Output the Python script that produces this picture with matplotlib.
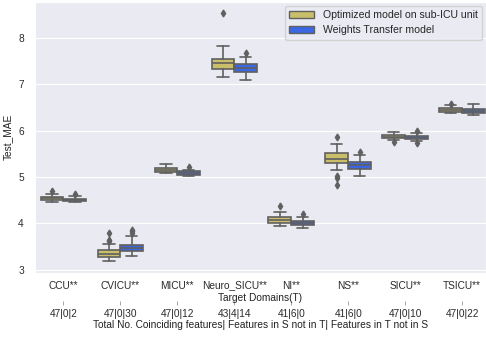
import numpy as np
import matplotlib.pyplot as plt
import seaborn as sns

sns.set_style("darkgrid")
plt.rcParams['font.family'] = ['Liberation Sans', 'DejaVu Sans']

domains = ['CCU**', 'CVICU**', 'MICU**', 'Neuro_SICU**', 'NI**', 'NS**', 'SICU**', 'TSICU**']
features = ['47|0|2', '47|0|30', '47|0|12', '43|4|14', '41|6|0', '41|6|0', '47|0|10', '47|0|22']
models = ['Optimized model on sub-ICU unit', 'Weights Transfer model']

# box summaries per domain: (whislo, q1, median, q3, whishi)
opt_box = [
    (4.46, 4.51, 4.54, 4.57, 4.64),
    (3.20, 3.27, 3.34, 3.42, 3.55),
    (5.08, 5.10, 5.16, 5.20, 5.28),
    (7.16, 7.33, 7.45, 7.55, 7.82),
    (3.94, 4.01, 4.07, 4.13, 4.25),
    (5.15, 5.31, 5.39, 5.51, 5.72),
    (5.79, 5.84, 5.87, 5.90, 5.965),
    (6.375, 6.41, 6.45, 6.48, 6.556),
]
opt_fliers = [
    [4.69],
    [3.62, 3.65, 3.79],
    [],
    [8.54],
    [4.37],
    [5.87, 5.02, 4.97, 4.82],
    [5.76],
    [6.58],
]
wt_box = [
    (4.47, 4.49, 4.515, 4.535, 4.585),
    (3.29, 3.40, 3.48, 3.545, 3.72),
    (5.03, 5.054, 5.09, 5.125, 5.16),
    (7.095, 7.274, 7.35, 7.44, 7.59),
    (3.90, 3.96, 4.01, 4.06, 4.133),
    (5.02, 5.18, 5.25, 5.33, 5.47),
    (5.77, 5.81, 5.845, 5.88, 5.94),
    (6.33, 6.375, 6.42, 6.47, 6.58),
]
wt_fliers = [
    [4.64],
    [3.79, 3.83, 3.87],
    [5.21],
    [7.68],
    [4.21],
    [5.55],
    [5.99, 5.73],
    [],
]

colors = ['#c9bf6b', '#3d66e3']
line_c = '#606060'

fig = plt.figure(figsize=(4.86, 3.39), dpi=100)
ax = fig.add_axes([0.072, 0.195, 0.928, 0.8])


def to_stats(boxes, fliers):
    out = []
    for (lo, q1, med, q3, hi), fl in zip(boxes, fliers):
        out.append(dict(whislo=lo, q1=q1, med=med, q3=q3, whishi=hi, fliers=fl))
    return out


x = np.arange(len(domains))
for k, (boxes, fliers) in enumerate([(opt_box, opt_fliers), (wt_box, wt_fliers)]):
    pos = x - 0.2 + 0.4 * k
    ax.bxp(to_stats(boxes, fliers), positions=pos, widths=0.4, patch_artist=True,
           manage_ticks=False,
           boxprops=dict(facecolor=colors[k], edgecolor=line_c, linewidth=1.2),
           medianprops=dict(color=line_c, linewidth=1.2),
           whiskerprops=dict(color=line_c, linewidth=1.2),
           capprops=dict(color=line_c, linewidth=1.2),
           flierprops=dict(marker='d', markerfacecolor=line_c, markeredgecolor=line_c,
                           markersize=3.5))

ax.grid(axis='x', visible=False)
ax.set_xlim(-0.5, 7.42)
ax.set_ylim(2.935, 8.78)
ax.set_yticks([3, 4, 5, 6, 7, 8])
ax.set_xticks(x)
ax.set_xticklabels(domains)
ax.tick_params(axis='both', labelsize=7.3, colors='#2b2b2b')
ax.tick_params(axis='y', pad=4.5)
ax.tick_params(axis='x', length=3, width=0.6, color='#999999', pad=2.5)
ax.set_ylabel('Test_MAE', fontsize=7.3, color='#222222', labelpad=3.5)
ax.set_xlabel('Target Domains(T)', fontsize=7.3, color='#222222', labelpad=1.5)

sec = ax.secondary_xaxis(-0.105)
sec.set_xticks(x)
sec.set_xticklabels(features)
sec.tick_params(axis='x', labelsize=7.3, length=3, width=0.6, color='#999999',
                colors='#2b2b2b', pad=2.5)
sec.spines['bottom'].set_visible(False)
sec.set_xlabel('Total No. Coinciding features| Features in S not in T| Features in T not in S',
               fontsize=7.3, color='#222222', labelpad=1)

handles = [plt.Rectangle((0, 0), 1, 1, facecolor=c, edgecolor=line_c, linewidth=1) for c in colors]
ax.legend(handles, models, loc='upper right', fontsize=7.6, frameon=True,
          borderaxespad=0.4, handlelength=2.4)

fig.savefig('out.png', dpi=100)
